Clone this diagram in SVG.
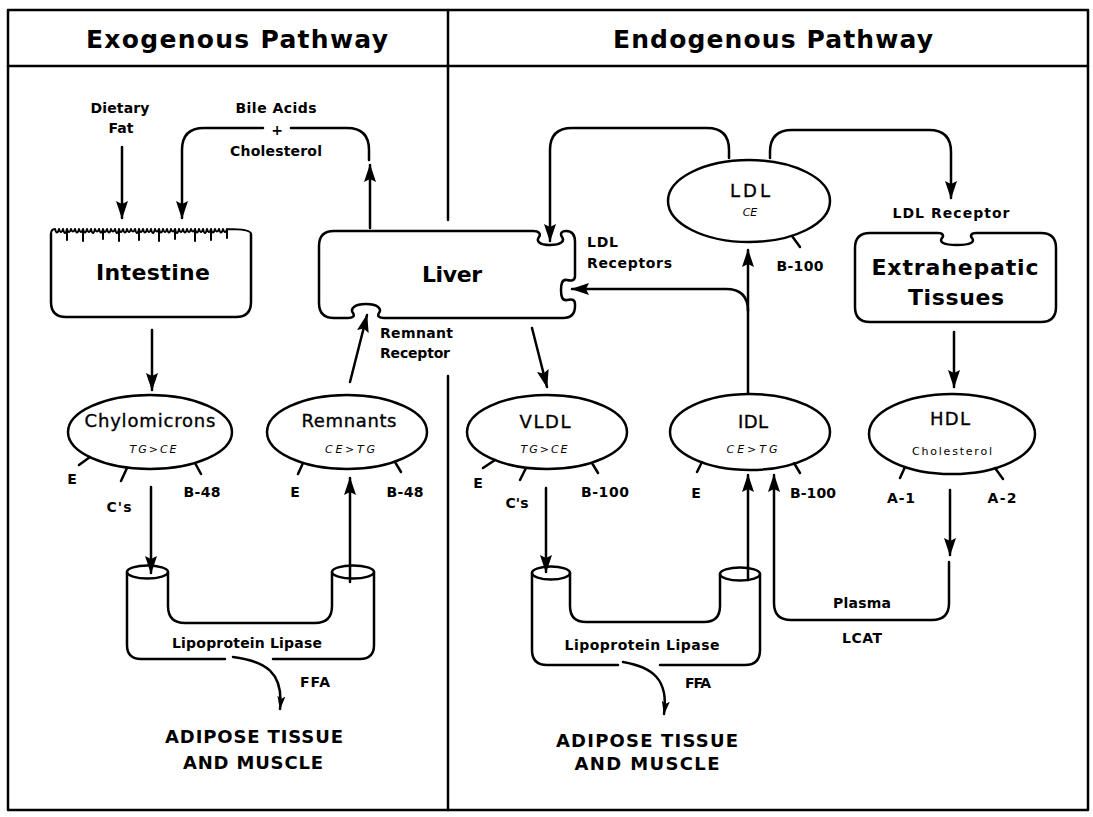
<svg xmlns="http://www.w3.org/2000/svg" width="1093" height="817" viewBox="0 0 1093 817">
<defs>
<style>
.ln{fill:none;stroke:#000;stroke-width:2.5;stroke-linecap:round;stroke-linejoin:round}
.vil{fill:none;stroke:#000;stroke-width:2;stroke-linecap:round;stroke-linejoin:round}
.t{font-family:"DejaVu Sans","Liberation Sans",Arial,sans-serif;fill:#000;text-anchor:middle}
.l{text-anchor:start}
.title{font-size:25px;font-weight:bold}
.box{font-size:22px;font-weight:bold}
.ell{font-size:18px;stroke:#000;stroke-width:0.35}
.sub{font-size:11px;font-style:italic}
.sm{font-size:11px}
.lab{font-size:14px;font-weight:bold}
.big{font-size:18px;font-weight:bold}
</style>
<marker id="ah" viewBox="0 0 18 12" refX="17" refY="6" markerWidth="18" markerHeight="12" markerUnits="userSpaceOnUse" orient="auto">
<path d="M0,0 L18,6 L0,12 L3,6 z" fill="#000"/>
</marker>
<marker id="ahs" viewBox="0 0 14 8" refX="13" refY="4" markerWidth="14" markerHeight="8" markerUnits="userSpaceOnUse" orient="auto">
<path d="M0,0 L14,4 L0,8 L3,4 z" fill="#000"/>
</marker>
</defs>
<rect width="1093" height="817" fill="#fff"/>

<g id="frame">
<rect x="8" y="10" width="1080" height="800" class="ln"/>
<path d="M8,66 H1088 M448,10 V220 M448,376 V810" class="ln"/>
<text x="237" y="48" class="t title" textLength="302" lengthAdjust="spacing">Exogenous Pathway</text>
<text x="773" y="48" class="t title" textLength="320" lengthAdjust="spacing">Endogenous Pathway</text>
</g>

<g id="intestine">
<path d="M51,234 V302 Q51,317 66,317 H236 Q251,317 251,302 V234" class="ln"/>
<path d="M51,234 Q51,229 55,229 q2,7 4,0 q2,6 4,0 q2,8 4,0 v11 v-11 q2,6 4,0 q2,5 4,0 q2,7 4,0 q2,6 4,0 v12 v-12 q2,7 4,0 q2,6 4,0 q2,8 4,0 q2,5 4,0 q2,7 4,0 v10 v-10 q2,6 4,0 q2,7 4,0 q2,5 4,0 q2,8 4,0 v12 v-12 q2,6 4,0 q2,7 4,0 q2,6 4,0 q2,5 4,0 q2,8 4,0 v11 v-11 q2,6 4,0 q2,7 4,0 q2,6 4,0 q2,8 4,0 q2,5 4,0 v12 v-12 q2,7 4,0 q2,6 4,0 q2,7 4,0 q2,5 4,0 v10 v-10 q2,8 4,0 q2,6 4,0 q2,7 4,0 q2,6 4,0 q2,5 4,0 v12 v-12 q2,7 4,0 q2,6 4,0 q2,8 4,0 q2,6 4,0 v11 v-11 q2,7 4,0 q2,5 4,0 q2,7 4,0 q2,6 4,0 v9 v-9 Q251,229 251,234" class="vil"/>
<text x="153" y="280" class="t box" textLength="114" lengthAdjust="spacing">Intestine</text>
</g>

<g id="liver">
<path d="M334,231 H533 C539,231 541,234 539,237 C536,241 539,245 550,245 C561,245 565,241 562,237 C560,234 561,231 566,231 Q575,231 575,242 V276 C575,281 571,281 567,280 C562,279 561,284 561,290 C561,296 562,301 567,300 C571,299 575,299 575,304 V306 Q575,318 563,318 H384 C379,318 377,316 379,313 C382,309 378,304 366,304 C354,304 350,309 353,313 C355,316 353,318 348,318 H334 Q319,318 319,303 V246 Q319,231 334,231 Z" class="ln"/>
<text x="452" y="282" class="t box" textLength="60" lengthAdjust="spacing">Liver</text>
</g>

<g id="extrahepatic">
<path d="M870,233 H938 C943,233 944,236 942,238 C939,242 943,245 957,245 C971,245 975,242 972,238 C970,236 971,233 976,233 H1041 Q1056,233 1056,248 V307 Q1056,322 1041,322 H870 Q855,322 855,307 V248 Q855,233 870,233 Z" class="ln"/>
<text x="955" y="275" class="t box" textLength="167" lengthAdjust="spacing">Extrahepatic</text>
<text x="956" y="305" class="t box" textLength="96" lengthAdjust="spacing">Tissues</text>
</g>

<g id="ldl">
<ellipse cx="749" cy="201" rx="81" ry="41" class="ln"/>
<path d="M792,236 L800,247" class="ln"/>
<text x="750" y="197" class="t ell" textLength="40" lengthAdjust="spacing">LDL</text>
<text x="750" y="216" class="t sub">CE</text>
<text x="800" y="271" class="t lab" textLength="47" lengthAdjust="spacing">B-100</text>
</g>

<g id="chylomicrons">
<ellipse cx="150" cy="432" rx="82" ry="37" class="ln"/>
<path d="M90,457 L79,465 M127,468 L121,481 M195,463 L201,474" class="ln"/>
<text x="150" y="427" class="t ell" textLength="131" lengthAdjust="spacing">Chylomicrons</text>
<text x="153" y="453" class="t sub" textLength="47" lengthAdjust="spacing">TG&gt;CE</text>
<text x="72" y="484" class="t lab">E</text>
<text x="119" y="512" class="t lab" textLength="25" lengthAdjust="spacing">C's</text>
<text x="202" y="497" class="t lab" textLength="37" lengthAdjust="spacing">B-48</text>
</g>

<g id="remnants">
<ellipse cx="347" cy="432" rx="80" ry="37" class="ln"/>
<path d="M303,463 L298,474 M395,462 L401,472" class="ln"/>
<text x="349" y="427" class="t ell" textLength="95" lengthAdjust="spacing">Remnants</text>
<text x="350" y="453" class="t sub" textLength="50" lengthAdjust="spacing">CE&gt;TG</text>
<text x="295" y="497" class="t lab">E</text>
<text x="405" y="497" class="t lab" textLength="37" lengthAdjust="spacing">B-48</text>
</g>

<g id="vldl">
<ellipse cx="547" cy="432" rx="80" ry="37" class="ln"/>
<path d="M495,460 L483,468 M526,468 L520,480 M592,463 L598,473" class="ln"/>
<text x="545" y="428" class="t ell" textLength="51" lengthAdjust="spacing">VLDL</text>
<text x="544" y="453" class="t sub" textLength="47" lengthAdjust="spacing">TG&gt;CE</text>
<text x="478" y="488" class="t lab">E</text>
<text x="517" y="508" class="t lab" textLength="23" lengthAdjust="spacing">C's</text>
<text x="605" y="497" class="t lab" textLength="48" lengthAdjust="spacing">B-100</text>
</g>

<g id="idl">
<ellipse cx="750" cy="432" rx="80" ry="38" class="ln"/>
<path d="M702,462 L697,472 M794,463 L800,473" class="ln"/>
<text x="753" y="428" class="t ell" textLength="30" lengthAdjust="spacing">IDL</text>
<text x="752" y="453" class="t sub" textLength="51" lengthAdjust="spacing">CE&gt;TG</text>
<text x="696" y="498" class="t lab">E</text>
<text x="813" y="498" class="t lab" textLength="46" lengthAdjust="spacing">B-100</text>
</g>

<g id="hdl">
<ellipse cx="952" cy="434" rx="83" ry="40" class="ln"/>
<path d="M905,467 L900,478 M995,468 L1003,479" class="ln"/>
<text x="950" y="425" class="t ell" textLength="40" lengthAdjust="spacing">HDL</text>
<text x="952" y="455" class="t sm" textLength="80" lengthAdjust="spacing">Cholesterol</text>
<text x="901" y="503" class="t lab" textLength="28" lengthAdjust="spacing">A-1</text>
<text x="1002" y="503" class="t lab" textLength="29" lengthAdjust="spacing">A-2</text>
</g>

<g id="capillary-exogenous">
<path d="M127,572 V645 Q127,659 141,659 H225 M273,659 H360 Q374,659 374,645 V572" class="ln"/>
<path d="M168,572 V606 Q168,623 185,623 H315 Q332,623 332,606 V572" class="ln"/>
<ellipse cx="147.5" cy="572" rx="20.5" ry="6.5" class="ln"/>
<ellipse cx="353" cy="572" rx="21" ry="6.5" class="ln"/>
<text x="247" y="648" class="t lab" textLength="150" lengthAdjust="spacing">Lipoprotein Lipase</text>
</g>

<g id="capillary-endogenous">
<path d="M532,573 V650 Q532,665 547,665 H618 M660,665 H745 Q760,665 760,650 V574" class="ln"/>
<path d="M570,573 V606 Q570,622 586,622 H704 Q720,622 720,606 V574" class="ln"/>
<ellipse cx="551" cy="573" rx="19" ry="6.5" class="ln"/>
<ellipse cx="740" cy="574" rx="20" ry="6.5" class="ln"/>
<text x="642" y="650" class="t lab" textLength="155" lengthAdjust="spacing">Lipoprotein Lipase</text>
</g>

<g id="adipose-exogenous">
<text x="254" y="743" class="t big" textLength="178" lengthAdjust="spacing">ADIPOSE TISSUE</text>
<text x="253" y="769" class="t big" textLength="140" lengthAdjust="spacing">AND MUSCLE</text>
</g>

<g id="adipose-endogenous">
<text x="647" y="747" class="t big" textLength="182" lengthAdjust="spacing">ADIPOSE TISSUE</text>
<text x="647" y="770" class="t big" textLength="145" lengthAdjust="spacing">AND MUSCLE</text>
</g>

<g id="labels">
<text x="120" y="113" class="t lab" textLength="59" lengthAdjust="spacing">Dietary</text>
<text x="121" y="133" class="t lab" textLength="25" lengthAdjust="spacing">Fat</text>
<text x="276" y="113" class="t lab" textLength="81" lengthAdjust="spacing">Bile Acids</text>
<text x="277" y="135" class="t lab">+</text>
<text x="276" y="156" class="t lab" textLength="92" lengthAdjust="spacing">Cholesterol</text>
<text x="587" y="247" class="t lab l" textLength="31" lengthAdjust="spacing">LDL</text>
<text x="587" y="268" class="t lab l" textLength="85" lengthAdjust="spacing">Receptors</text>
<text x="951" y="218" class="t lab" textLength="117" lengthAdjust="spacing">LDL Receptor</text>
<text x="380" y="338" class="t lab l" textLength="73" lengthAdjust="spacing">Remnant</text>
<text x="380" y="358" class="t lab l" textLength="70" lengthAdjust="spacing">Receptor</text>
<text x="862" y="608" class="t lab" textLength="58" lengthAdjust="spacing">Plasma</text>
<text x="862" y="643" class="t lab" textLength="40" lengthAdjust="spacing">LCAT</text>
<text x="315" y="687" class="t lab" textLength="30" lengthAdjust="spacing">FFA</text>
<text x="698" y="688" class="t lab" textLength="26" lengthAdjust="spacing">FFA</text>
</g>

<g id="connectors">
<path d="M122,147 V218" class="ln" marker-end="url(#ah)"/>
<path d="M369,160 V150 Q369,128 347,128 H291" class="ln"/>
<path d="M263,128 H204 Q182,128 182,150 V218" class="ln" marker-end="url(#ah)"/>
<path d="M370,228 V165" class="ln" marker-end="url(#ah)"/>
<path d="M152,330 V390" class="ln" marker-end="url(#ah)"/>
<path d="M350,382 L367,315" class="ln" marker-end="url(#ah)"/>
<path d="M532,328 L547,387" class="ln" marker-end="url(#ah)"/>
<path d="M729,158 V150 Q729,128 707,128 H572 Q550,128 550,150 V241" class="ln" marker-end="url(#ah)"/>
<path d="M770,158 V152 Q770,130 792,130 H929 Q951,130 951,152 V198" class="ln" marker-end="url(#ah)"/>
<path d="M748,393 V250" class="ln" marker-end="url(#ah)"/>
<path d="M748,311 Q748,289 726,289 H572" class="ln" marker-end="url(#ah)"/>
<path d="M954,332 V387" class="ln" marker-end="url(#ah)"/>
<path d="M151,487 V573" class="ln" marker-end="url(#ah)"/>
<path d="M350,582 V478" class="ln" marker-end="url(#ah)"/>
<path d="M546,488 V572" class="ln" marker-end="url(#ah)"/>
<path d="M748,580 V475" class="ln" marker-end="url(#ah)"/>
<path d="M950,490 V555" class="ln" marker-end="url(#ah)"/>
<path d="M949,562 V603 Q949,620 932,620 H791 Q774,620 774,603 V475" class="ln" marker-end="url(#ah)"/>
<path d="M233,657 C265,661 284,672 280,709" class="ln" marker-end="url(#ahs)"/>
<path d="M623,662 C652,667 669,679 664,714" class="ln" marker-end="url(#ahs)"/>
</g>
</svg>
